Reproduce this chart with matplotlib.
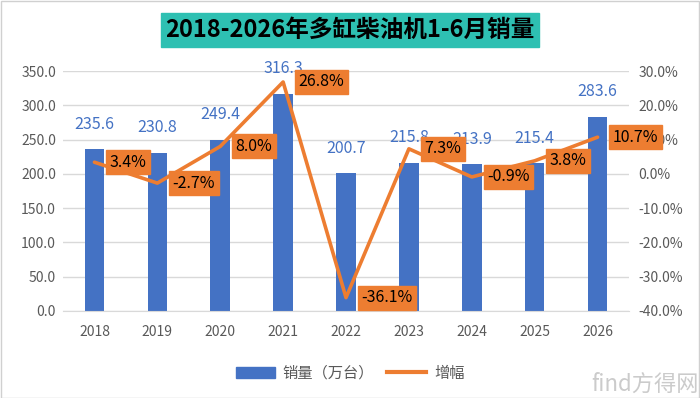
import matplotlib
matplotlib.use("Agg")
import matplotlib.pyplot as plt
from matplotlib.patches import Rectangle
from matplotlib.lines import Line2D
from matplotlib.patches import Patch

plt.rcParams['font.family'] = ['Noto Sans CJK SC', 'DejaVu Sans']

years = ['2018', '2019', '2020', '2021', '2022', '2023', '2024', '2025', '2026']
sales = [235.6, 230.8, 249.4, 316.3, 200.7, 215.8, 213.9, 215.4, 283.6]
growth = [3.4, -2.7, 8.0, 26.8, -36.1, 7.3, -0.9, 3.8, 10.7]

BLUE = '#4472C4'
ORANGE = '#ED7D31'
GRAY = '#595959'

fig = plt.figure(figsize=(7, 3.98), dpi=100)
ax = fig.add_axes([0.09, 0.2186, 0.8086, 0.603])
ax2 = ax.twinx()

x = list(range(len(years)))
ax.bar(x, sales, width=0.31, color=BLUE, zorder=2)
ax.set_ylim(0, 350)
ax.set_xlim(-0.5, len(years) - 0.5)
ax.set_yticks(range(0, 351, 50))
ax.set_yticklabels([f'{v:.1f}' for v in range(0, 351, 50)])
ax.set_xticks(x)
ax.set_xticklabels(years)
ax.grid(axis='y', color='#D9D9D9', lw=1, zorder=0)
ax.set_axisbelow(True)
for s in ['top', 'right', 'left']:
    ax.spines[s].set_visible(False)
    ax2.spines[s].set_visible(False)
ax.spines['bottom'].set_color('#D9D9D9')
ax2.spines['bottom'].set_visible(False)
ax.tick_params(length=0, labelsize=10, colors=GRAY, pad=5)
ax.tick_params(axis='x', pad=10)

for xi, v in zip(x, sales):
    ax.annotate(f'{v:.1f}', (xi, v), xytext=(0, 12), textcoords='offset points',
                ha='center', va='bottom', color=BLUE, fontsize=11.5, zorder=3)

ax2.plot(x, growth, color=ORANGE, lw=2.6, zorder=4, solid_capstyle='round')
ax2.set_ylim(-40, 30)
ax2.set_yticks(range(-40, 31, 10))
ax2.set_yticklabels([f'{v:.1f}%' for v in range(-40, 31, 10)])
ax2.tick_params(length=0, labelsize=10, colors=GRAY, pad=7)

for xi, g in zip(x, growth):
    ax2.annotate(f'{g:.1f}%', (xi, g), xytext=(11, 0), textcoords='offset points',
                 ha='left', va='center', color='black', fontsize=11.5, zorder=5,
                 bbox=dict(boxstyle='square,pad=0.22', fc=ORANGE, ec=ORANGE))

# title box
fig.text(0.5, 0.925, '2018-2026年多缸柴油机1-6月销量', ha='center', va='center',
         fontsize=17, fontweight='bold', color='black',
         bbox=dict(boxstyle='square,pad=0.2', fc='#2EC0B2', ec='#2EC0B2'))

handles = [Patch(color=BLUE), Line2D([0], [0], color=ORANGE, lw=3)]
fig.legend(handles, ['销量（万台）', '增幅'], loc='center', bbox_to_anchor=(0.5, 0.062),
           ncol=2, frameon=False, fontsize=11, labelcolor=GRAY,
           handlelength=2.6, columnspacing=0.8, handletextpad=0.5)

fig.text(0.998, 0.005, 'find方得网', ha='right', va='bottom', fontsize=16,
         color='#BEBEBE', alpha=0.8)

fig.patches.append(Rectangle((0.001, 0.001), 0.997, 0.997, transform=fig.transFigure,
                             fill=False, ec='#D0D0D0', lw=1))

fig.savefig('out.png', dpi=100)
